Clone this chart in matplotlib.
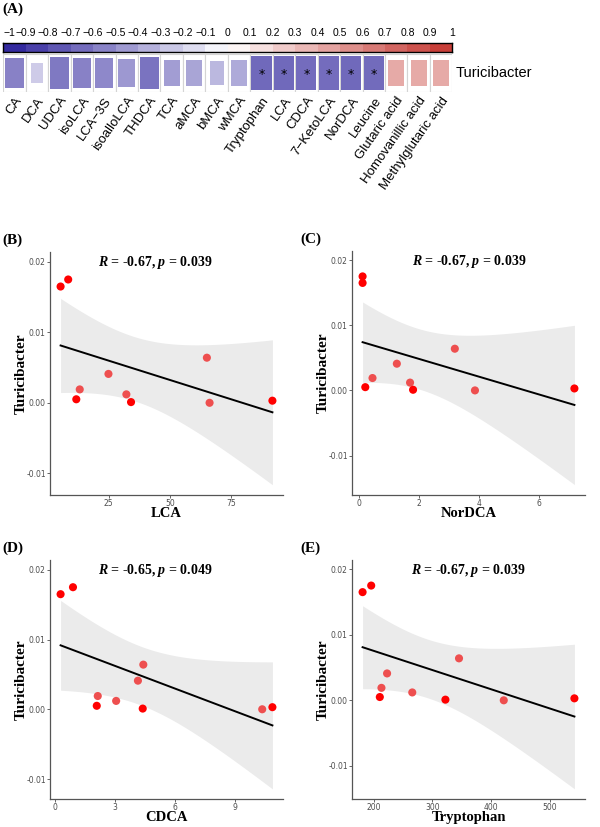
import numpy as np
import matplotlib
matplotlib.use("Agg")
import matplotlib.pyplot as plt
from matplotlib.colors import LinearSegmentedColormap
from matplotlib.patches import Rectangle

plt.rcParams['mathtext.fontset'] = 'custom'
plt.rcParams['mathtext.bfit'] = 'Liberation Serif:bold:italic'

# ---- panel A: correlation of Turicibacter with metabolites
metabolites = ['CA', 'DCA', 'UDCA', 'isoLCA', 'LCA\u22123S', 'isoalloLCA', 'THDCA',
               'TCA', 'aMCA', 'bMCA', 'wMCA', 'Tryptophan', 'LCA', 'CDCA',
               '7\u2212KetoLCA', 'NorDCA', 'Leucine', 'Glutaric acid',
               'Homovanillic acid', 'Methylglutaric acid']
corr_r = [-0.56, -0.23, -0.60, -0.56, -0.53, -0.46, -0.62, -0.43, -0.40, -0.32,
          -0.38, -0.67, -0.67, -0.65, -0.65, -0.67, -0.66, 0.42, 0.42, 0.42]
significant = [False] * 11 + [True] * 6 + [False] * 3

# ---- panels B-E: Turicibacter abundance vs metabolite level (10 samples)
turicibacter = np.array([0.0165, 0.0175, 0.0005, 0.0019, 0.0041,
                         0.0012, 0.0001, 0.0064, 0.0000, 0.0003])
lca = np.array([5.4, 8.5, 11.8, 13.2, 24.9, 32.2, 34.1, 65.0, 66.1, 91.7])
nordca = np.array([0.13, 0.13, 0.22, 0.46, 1.27, 1.71, 1.81, 3.20, 3.87, 7.18])
cdca = np.array([0.28, 0.90, 2.09, 2.14, 4.15, 3.06, 4.39, 4.42, 10.37, 10.88])
tryptophan = np.array([180.8, 195.5, 210.2, 213.0, 222.6, 265.6, 322.2, 345.4, 421.8, 542.4])
stats_text = ['-0.67, $\\mathbfit{p}$ = 0.039', '-0.67, $\\mathbfit{p}$ = 0.039',
              '-0.65, $\\mathbfit{p}$ = 0.049', '-0.67, $\\mathbfit{p}$ = 0.039']
bright = [True, True, True, False, False, False, True, False, False, True]

W, H = 600, 827
fig = plt.figure(figsize=(6, 8.27), dpi=100)


def px_axes(l, t, r, b):
    return fig.add_axes([l / W, 1 - b / H, (r - l) / W, (b - t) / H])


cmap = LinearSegmentedColormap.from_list('bwr2', ['#2a1f9a', '#ffffff', '#c4342e'])

fig.text(2 / W, 1 - 9 / H, '(A)', family='Liberation Serif', weight='bold',
         fontsize=11, va='center', ha='left')

# colour bar
cax = px_axes(3.3, 43.3, 452.3, 52.3)
bounds = np.linspace(-1, 1, 21)
centers = (bounds[:-1] + bounds[1:]) / 2
cax.pcolormesh(bounds, [0, 1], centers[np.newaxis, :], cmap=cmap, vmin=-1, vmax=1)
cax.set_xlim(-1, 1)
cax.set_ylim(0, 1)
cax.set_xticks([])
cax.set_yticks([])
for v in bounds:
    s = ('%g' % round(v, 1)).replace('-', '\u2212')
    cax.text(v, 2.1, s, ha='left' if v == -1 else 'center', va='center',
             fontsize=7.5, family='Liberation Sans', clip_on=False)
for sp in cax.spines.values():
    sp.set_linewidth(1.0)
    sp.set_color('black')

# heat map row
hax = px_axes(3.3, 54.3, 452.3, 91.7)
hax.set_xlim(0, len(metabolites))
hax.set_ylim(0, 1)
hax.axis('off')
hax.add_patch(Rectangle((0, 0), len(metabolites), 1, facecolor='white',
                        edgecolor='#bdbdbd', lw=1.2))
for i, (name, r, sig) in enumerate(zip(metabolites, corr_r, significant)):
    hax.add_patch(Rectangle((i, 0), 1, 1, facecolor='white', edgecolor='#d4d4d4', lw=0.8))
    side = min(1.1 * np.sqrt(abs(r)), 0.92)
    hax.add_patch(Rectangle((i + 0.5 - side / 2, 0.5 - side / 2), side, side,
                            facecolor=cmap((r + 1) / 2), edgecolor='none'))
    if sig:
        hax.text(i + 0.5, 0.47, '*', ha='center', va='center', fontsize=9, color='black')
    hax.text(i + 0.72, -0.17, name, rotation=55, rotation_mode='anchor',
             ha='right', va='center', fontsize=9.5, family='Liberation Sans',
             clip_on=False)
hax.text(20.15, 0.5, 'Turicibacter', ha='left', va='center', fontsize=10.5,
         family='Liberation Sans', clip_on=False)


# ---- scatter panels
def fit_band(x, y, t=2.306):
    n = len(x)
    xb = x.mean()
    sxx = ((x - xb) ** 2).sum()
    b = ((x - xb) * (y - y.mean())).sum() / sxx
    a = y.mean() - b * xb
    s = np.sqrt(((y - (a + b * x)) ** 2).sum() / (n - 2))
    xs = np.linspace(x.min(), x.max(), 100)
    yhat = a + b * xs
    se = s * np.sqrt(1 / n + (xs - xb) ** 2 / sxx)
    return xs, yhat, yhat - t * se, yhat + t * se


panels = [
    ('(B)', lca, 'LCA', [25, 50, 75], (50, 252, 283, 495), 0.45),
    ('(C)', nordca, 'NorDCA', [0, 2, 4, 6], (352, 251, 585, 495), 0.505),
    ('(D)', cdca, 'CDCA', [0, 3, 6, 9], (50, 560, 283, 799), 0.45),
    ('(E)', tryptophan, 'Tryptophan', [200, 300, 400, 500], (352, 560, 585, 799), 0.50),
]

for k, (tag, xv, xlabel, xticks, box, tx) in enumerate(panels):
    ax = px_axes(*box)
    hgt = box[3] - box[1]
    wid = box[2] - box[0]
    xs, yhat, lo, hi = fit_band(xv, turicibacter)
    ax.fill_between(xs, lo, hi, color='#ebebeb', lw=0, zorder=1)
    ax.plot(xs, yhat, color='black', lw=1.4, zorder=2)
    cols = ['#ff0000' if b else '#ee4f4f' for b in bright]
    ax.scatter(xv, turicibacter, s=34, c=cols, edgecolors='none', zorder=3)

    x0, x1 = xv.min(), xv.max()
    dx = (x1 - x0) * 0.05
    ax.set_xlim(x0 - dx, x1 + dx)
    y0 = min(lo.min(), turicibacter.min())
    y1 = max(hi.max(), turicibacter.max())
    dy = (y1 - y0) * 0.05
    ax.set_ylim(y0 - dy, max(y1 + dy, 0.0214))

    ax.set_xticks(xticks)
    ax.set_yticks([-0.01, 0.0, 0.01, 0.02])
    ax.set_yticklabels(['-0.01', '0.00', '0.01', '0.02'])
    for sp in ['top', 'right']:
        ax.spines[sp].set_visible(False)
    for sp in ['left', 'bottom']:
        ax.spines[sp].set_color('#555555')
        ax.spines[sp].set_linewidth(0.9)
    ax.tick_params(labelsize=5.5, colors='#4d4d4d', length=2, width=0.6, pad=1)
    ax.set_xlabel(xlabel, family='Liberation Serif', weight='bold', fontsize=10.5)
    ax.xaxis.set_label_coords(0.5, -12 / hgt)
    ax.set_ylabel('Turicibacter', family='Liberation Serif', weight='bold', fontsize=11)
    ax.yaxis.set_label_coords(-29 / wid, 0.5)
    ax.yaxis.label.set_va('center')
    ax.text(tx, 0.955, '$\\mathbfit{R}$ = ' + stats_text[k], transform=ax.transAxes,
            ha='center', va='center', family='Liberation Serif', weight='bold', fontsize=10)

    lab_x = 2 if box[0] < 300 else 300
    fig.text(lab_x / W, 1 - (box[1] - 12) / H, tag, family='Liberation Serif',
             weight='bold', fontsize=11, va='center', ha='left')

fig.savefig('out.png', dpi=100)
